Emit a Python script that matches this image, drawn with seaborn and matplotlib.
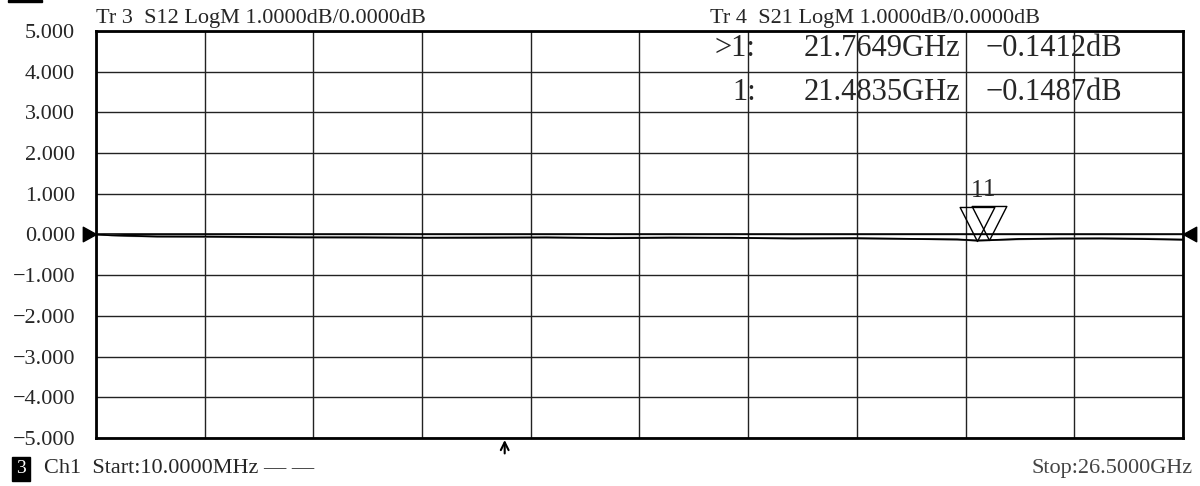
import numpy as np
import pandas as pd
import matplotlib
matplotlib.use('Agg')
import matplotlib.pyplot as plt
from matplotlib.path import Path
from matplotlib.patches import Rectangle
import seaborn as sns

# trace data (GHz / dB)
freq_ghz = [0.01, 0.4, 0.8, 1.5, 2.6, 3.8, 5.0, 6.5, 8.0, 9.5, 11.0, 12.5, 14.0,
            15.5, 17.0, 18.5, 20.0, 21.0, 21.48, 21.76, 22.5, 23.5, 24.5, 25.5, 26.5]
s12_db = [0.0, -0.02, -0.04, -0.05, -0.06, -0.07, -0.07, -0.08, -0.08, -0.07, -0.08,
          -0.08, -0.07, -0.09, -0.09, -0.10, -0.11, -0.13, -0.15, -0.14, -0.12,
          -0.10, -0.09, -0.10, -0.12]
s21_db = [0.0, -0.02, -0.03, -0.05, -0.05, -0.06, -0.07, -0.07, -0.08, -0.08, -0.07,
          -0.09, -0.08, -0.08, -0.10, -0.09, -0.11, -0.12, -0.149, -0.141, -0.11,
          -0.10, -0.10, -0.11, -0.13]

# markers
marker_names = ['>1:', '1:']
marker_freq = [21.7649, 21.4835]
marker_db = [-0.1412, -0.1487]

start_freq = '10.0000MHz'
stop_freq = '26.5000GHz'
yticks = [5, 4, 3, 2, 1, 0, -1, -2, -3, -4, -5]

df = pd.DataFrame({'freq': freq_ghz * 2,
                   'db': s12_db + s21_db,
                   'trace': ['S12'] * len(freq_ghz) + ['S21'] * len(freq_ghz)})

sns.set_style('white')
plt.rcParams['font.family'] = ['Liberation Serif', 'DejaVu Serif']

fig = plt.figure(figsize=(12, 4.86), dpi=100)
ax = fig.add_axes([0.08, 0.0988, 0.9058, 0.8374])

xmin, xmax = 0.01, 26.5
sns.lineplot(data=df, x='freq', y='db', hue='trace', palette={'S12': '#8a8a8a', 'S21': 'black'},
             linewidth=1.3, legend=False, ax=ax, zorder=4)
ax.axhline(0, color='black', lw=1.1, zorder=3)

ax.set_xlim(xmin, xmax)
ax.set_ylim(-5, 5)
ax.set_xticks(np.linspace(xmin, xmax, 11))
ax.set_yticks(yticks)
ax.set_yticklabels([f'{v:.3f}'.replace('-', '\u2212') for v in yticks], fontsize=16)
ax.tick_params(axis='x', labelbottom=False, length=0)
ax.tick_params(axis='y', length=0, pad=15)
ax.set_xlabel('')
ax.set_ylabel('')
ax.set_axisbelow(False)
ax.grid(True, color='#222222', lw=1)
for s in ax.spines.values():
    s.set_color('black')
    s.set_linewidth(2)
    s.set_zorder(5)

# marker triangles, tip on the trace point
tri = Path([(0, 0), (-0.51, 1), (0.51, 1), (0, 0)], [Path.MOVETO, Path.LINETO, Path.LINETO, Path.CLOSEPOLY])
for f, d in zip(marker_freq, marker_db):
    ax.plot([f], [d], marker=tri, ms=49, mfc='none', mec='black', mew=1, ls='none', zorder=6)
    ax.annotate('1', (f, d), xytext=(0, 28), textcoords='offset points', ha='center',
                va='bottom', fontsize=18, zorder=6)

# reference level arrows
left_arrow = Path([(0, 0), (-1, 0.55), (-1, -0.55), (0, 0)], [Path.MOVETO, Path.LINETO, Path.LINETO, Path.CLOSEPOLY])
right_arrow = Path([(0, 0), (1, 0.55), (1, -0.55), (0, 0)], [Path.MOVETO, Path.LINETO, Path.LINETO, Path.CLOSEPOLY])
ax.plot([xmin], [0], marker=left_arrow, ms=19, color='black', clip_on=False, zorder=7)
ax.plot([xmax], [0], marker=right_arrow, ms=19, color='black', clip_on=False, zorder=7)

# marker readout (behind the grid)
for i, (n, f, d) in enumerate(zip(marker_names, marker_freq, marker_db)):
    yy = 0.956 - i * 0.107
    ax.text(0.607, yy, n, transform=ax.transAxes, ha='right', va='center', fontsize=22, zorder=1)
    ax.text(0.651, yy, f'{f:.4f}GHz', transform=ax.transAxes, ha='left', va='center', fontsize=22, zorder=1)
    ax.text(0.818, yy, f'{d:.4f}dB'.replace('-', '\u2212'), transform=ax.transAxes, ha='left',
            va='center', fontsize=22, zorder=1)

# trace headers
fig.text(0.08, 0.942, 'Tr 3  S12 LogM 1.0000dB/0.0000dB', fontsize=16, va='bottom')
fig.text(0.592, 0.942, 'Tr 4  S21 LogM 1.0000dB/0.0000dB', fontsize=16, va='bottom')

# footer
fig.text(0.0135, 0.035, '3', fontsize=14, color='white', va='center',
         bbox=dict(boxstyle='square,pad=0.2', fc='black', ec='black'))
fig.text(0.037, 0.035, f'Ch1  Start:{start_freq} \u2014 \u2014', fontsize=16, va='center')
fig.text(0.994, 0.035, f'Stop:{stop_freq}', fontsize=16, va='center', ha='right', color='#444444')
ax.annotate('', xy=(0.376, -0.005), xycoords='axes fraction', xytext=(0.376, -0.038),
            annotation_clip=False,
            arrowprops=dict(arrowstyle='->', color='black', lw=1.5, mutation_scale=14,
                            shrinkA=0, shrinkB=0))

fig.add_artist(Rectangle((0.007, 0.995), 0.028, 0.006, transform=fig.transFigure, color='black'))

fig.savefig('out.png', dpi=100)
